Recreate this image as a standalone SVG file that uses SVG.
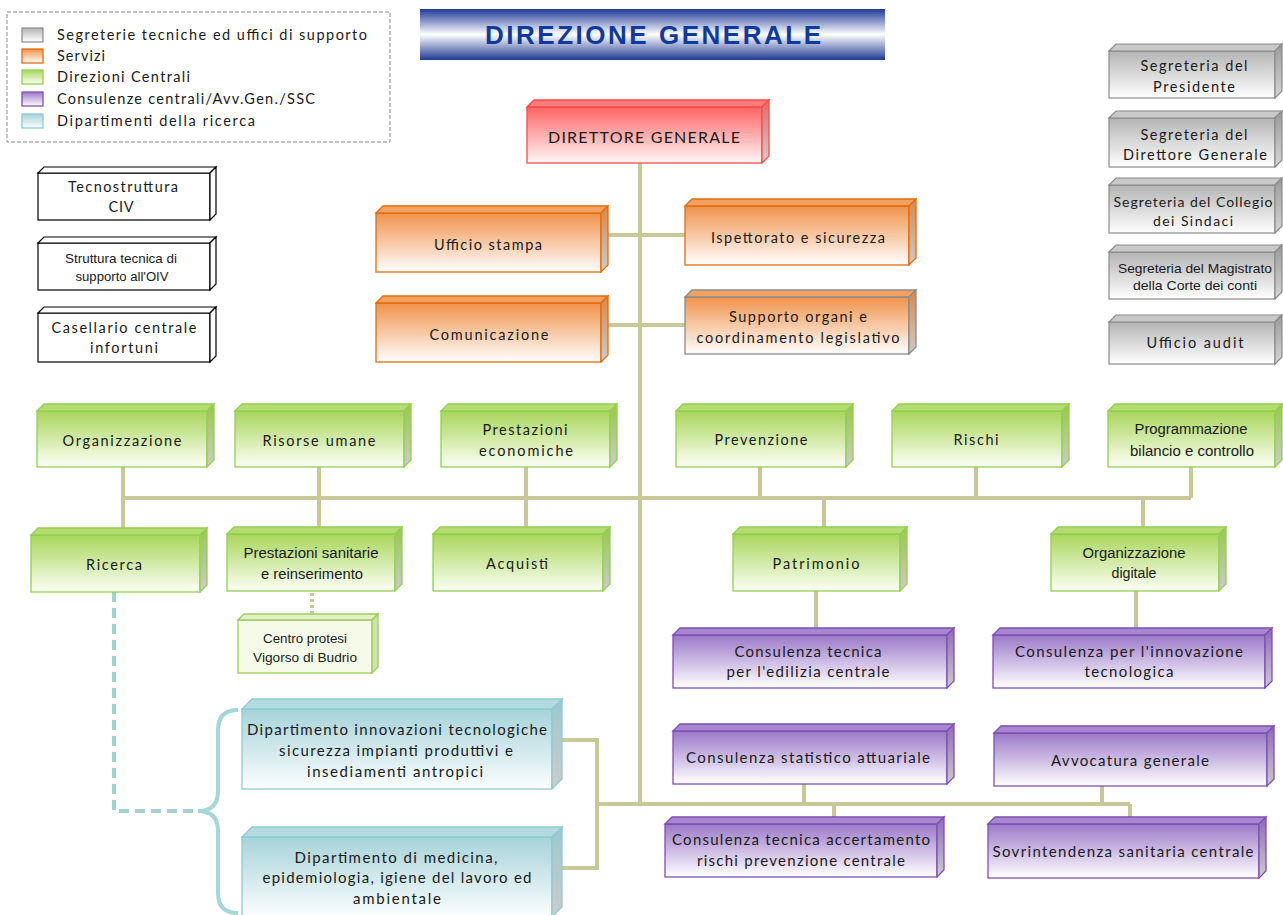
<svg xmlns="http://www.w3.org/2000/svg" width="1283" height="915" viewBox="0 0 1283 915">
<style>
.t{font-family:Lato,"Open Sans",sans-serif;font-size:14.5px;fill:#1a1a1a;text-anchor:middle}
.n{font-family:"Liberation Sans",Arial,sans-serif;font-size:14px;fill:#1a1a1a;text-anchor:middle}
.lg{font-family:Lato,"Open Sans",sans-serif;font-size:14.5px;fill:#1a1a1a}
.gr rect,.gr polygon{stroke:#8a8a8a;stroke-width:1.2}
.gr rect{fill:url(#fGray)} .gr .tp{fill:#c9c9c9} .gr .sd{fill:url(#sGray)}
.wh rect,.wh polygon{stroke:#000;stroke-width:1.2;fill:#fff}
.rd rect,.rd polygon{stroke:#ff4a4a;stroke-width:1.3}
.rd rect{fill:url(#fRed)} .rd .tp{fill:#ff7b7b} .rd .sd{fill:url(#sRed)}
.or rect,.or polygon{stroke:#e46c0a;stroke-width:1.3}
.or rect{fill:url(#fOr)} .or .tp{fill:#f2a160} .or .sd{fill:url(#sOr)}
.gn rect,.gn polygon{stroke:#92d050;stroke-width:1.3}
.gn rect{fill:url(#fGn)} .gn .tp{fill:#b4dc70} .gn .sd{fill:url(#sGn)}
.cp rect,.cp polygon{stroke:#9ccc5c;stroke-width:1.3}
.cp rect{fill:#f6fbe9} .cp .tp{fill:#e2f1c4} .cp .sd{fill:#cfe3a8}
.pu rect,.pu polygon{stroke:#7e4fb3;stroke-width:1.3}
.pu rect{fill:url(#fPu)} .pu .tp{fill:#a886d0} .pu .sd{fill:url(#sPu)}
.bl rect,.bl polygon{stroke:#8ccbd6;stroke-width:1.3}
.bl rect{fill:url(#fBl)} .bl .tp{fill:#b3dade} .bl .sd{fill:url(#sBl)}
.cn{fill:none;stroke:#c8c898;stroke-width:4}
</style>
<defs>
<linearGradient id="fGray" x1="0" y1="0" x2="0" y2="1"><stop offset="0" stop-color="#b4b4b4"/><stop offset="1" stop-color="#ffffff"/></linearGradient>
<linearGradient id="sGray" x1="0" y1="0" x2="0" y2="1"><stop offset="0" stop-color="#9a9a9a"/><stop offset="1" stop-color="#d6d6d6"/></linearGradient>
<linearGradient id="fRed" x1="0" y1="0" x2="0" y2="1"><stop offset="0" stop-color="#ff6464"/><stop offset="1" stop-color="#fff6f6"/></linearGradient>
<linearGradient id="sRed" x1="0" y1="0" x2="0" y2="1"><stop offset="0" stop-color="#e06a6a"/><stop offset="1" stop-color="#cfcfcf"/></linearGradient>
<linearGradient id="fOr" x1="0" y1="0" x2="0" y2="1"><stop offset="0" stop-color="#f0924a"/><stop offset="1" stop-color="#ffffff"/></linearGradient>
<linearGradient id="sOr" x1="0" y1="0" x2="0" y2="1"><stop offset="0" stop-color="#d8884a"/><stop offset="1" stop-color="#cccccc"/></linearGradient>
<linearGradient id="fGn" x1="0" y1="0" x2="0" y2="1"><stop offset="0" stop-color="#a8d65a"/><stop offset="1" stop-color="#fcfff5"/></linearGradient>
<linearGradient id="sGn" x1="0" y1="0" x2="0" y2="1"><stop offset="0" stop-color="#98c84c"/><stop offset="1" stop-color="#cccccc"/></linearGradient>
<linearGradient id="fPu" x1="0" y1="0" x2="0" y2="1"><stop offset="0" stop-color="#9b78c8"/><stop offset="1" stop-color="#ffffff"/></linearGradient>
<linearGradient id="sPu" x1="0" y1="0" x2="0" y2="1"><stop offset="0" stop-color="#8e6ab8"/><stop offset="1" stop-color="#cccccc"/></linearGradient>
<linearGradient id="fBl" x1="0" y1="0" x2="0" y2="1"><stop offset="0" stop-color="#a6d3d9"/><stop offset="1" stop-color="#fbfefe"/></linearGradient>
<linearGradient id="sBl" x1="0" y1="0" x2="0" y2="1"><stop offset="0" stop-color="#9cc8cd"/><stop offset="1" stop-color="#cccccc"/></linearGradient>
<linearGradient id="fTitle" x1="0" y1="0" x2="0" y2="1"><stop offset="0" stop-color="#1f3993"/><stop offset="0.5" stop-color="#ffffff"/><stop offset="1" stop-color="#1f3993"/></linearGradient>
</defs>

<g id="legend">
<rect x="7" y="12" width="383" height="130" fill="#fff" stroke="#8a8a8a" stroke-width="1" stroke-dasharray="4 2"/>
<g class="gr"><rect x="22" y="28" width="21" height="14"/></g>
<g class="or"><rect x="22" y="49" width="21" height="14"/></g>
<g class="gn"><rect x="22" y="70" width="21" height="14"/></g>
<g class="pu"><rect x="22" y="92" width="21" height="14"/></g>
<g class="bl"><rect x="22" y="114" width="21" height="14"/></g>
<text class="lg" x="57" y="40" textLength="310">Segreterie tecniche ed uffici di supporto</text>
<text class="lg" x="57" y="61" textLength="48">Servizi</text>
<text class="lg" x="57" y="82" textLength="133">Direzioni Centrali</text>
<text class="lg" x="57" y="104" textLength="258">Consulenze centrali/Avv.Gen./SSC</text>
<text class="lg" x="57" y="126" textLength="198">Dipartimenti della ricerca</text>
</g>

<g id="title">
<rect x="420" y="9" width="465" height="51" fill="url(#fTitle)"/>
<text x="653" y="44" textLength="336" style="font-family:'Liberation Sans',Arial,sans-serif;font-weight:bold;font-size:26px;fill:#0d3a9c;text-anchor:middle">DIREZIONE GENERALE</text>
</g>

<g id="connectors">
<path class="cn" d="M640 163 V804"/>
<path class="cn" d="M607 235 H685"/>
<path class="cn" d="M607 325 H685"/>
<path class="cn" d="M123 498 H1191"/>
<path class="cn" d="M123 467 V535"/>
<path class="cn" d="M319 467 V534"/>
<path class="cn" d="M526 467 V534"/>
<path class="cn" d="M760 467 V498"/>
<path class="cn" d="M976 467 V498"/>
<path class="cn" d="M1191 467 V498"/>
<path class="cn" d="M824 498 V534"/>
<path class="cn" d="M1143 498 V534"/>
<path class="cn" d="M816 591 V628"/>
<path class="cn" d="M1136 591 V628"/>
<path class="cn" d="M562 740 H597 V868 H562"/>
<path class="cn" d="M597 804 H1130"/>
<path class="cn" d="M804 784 V804"/>
<path class="cn" d="M1102 786 V804"/>
<path class="cn" d="M834 804 V818"/>
<path class="cn" d="M1130 804 V818"/>
<path class="cn" d="M312 593 V613" stroke-dasharray="3 3"/>
<path d="M114 592 V811 H198" fill="none" stroke="#9fd2d2" stroke-width="4" stroke-dasharray="10 6"/>
<path d="M238 710 Q218 710 218 730 V791 Q218 811 198 811 Q218 811 218 831 V893 Q218 913 238 913" fill="none" stroke="#a6d6d6" stroke-width="4"/>
</g>

<g id="direttore" class="rd"><g transform="translate(527,107)"><rect width="235" height="56"/><polygon class="tp" points="0,0 7,-7 242,-7 235,0"/><polygon class="sd" points="235,0 242,-7 242,49 235,56"/></g>
<text class="t" x="644" y="143" textLength="192" style="font-size:16px">DIRETTORE  GENERALE</text></g>

<g id="seg-presidente" class="gr"><g transform="translate(1109,51)"><rect width="166" height="47"/><polygon class="tp" points="0,0 7,-7 173,-7 166,0"/><polygon class="sd" points="166,0 173,-7 173,40 166,47"/></g>
<text class="t" x="1194" y="71" textLength="107">Segreteria del</text><text class="t" x="1194" y="92" textLength="82">Presidente</text></g>
<g id="seg-dg" class="gr"><g transform="translate(1109,118)"><rect width="166" height="49"/><polygon class="tp" points="0,0 7,-7 173,-7 166,0"/><polygon class="sd" points="166,0 173,-7 173,42 166,49"/></g>
<text class="t" x="1194" y="140" textLength="107">Segreteria del</text><text class="t" x="1195" y="160" textLength="144">Direttore Generale</text></g>
<g id="seg-collegio" class="gr"><g transform="translate(1109,185)"><rect width="166" height="48"/><polygon class="tp" points="0,0 7,-7 173,-7 166,0"/><polygon class="sd" points="166,0 173,-7 173,41 166,48"/></g>
<text class="t" x="1193" y="207" textLength="159" style="font-size:14px">Segreteria del Collegio</text><text class="t" x="1193" y="226" textLength="80" style="font-size:14px">dei Sindaci</text></g>
<g id="seg-magistrato" class="gr"><g transform="translate(1109,252)"><rect width="166" height="47"/><polygon class="tp" points="0,0 7,-7 173,-7 166,0"/><polygon class="sd" points="166,0 173,-7 173,40 166,47"/></g>
<text class="n" x="1195" y="273" textLength="154" lengthAdjust="spacingAndGlyphs" style="font-size:13px">Segreteria del Magistrato</text><text class="n" x="1195" y="290" textLength="124" lengthAdjust="spacingAndGlyphs" style="font-size:13px">della Corte dei conti</text></g>
<g id="uff-audit" class="gr"><g transform="translate(1109,322)"><rect width="166" height="42"/><polygon class="tp" points="0,0 7,-7 173,-7 166,0"/><polygon class="sd" points="166,0 173,-7 173,35 166,42"/></g>
<text class="t" x="1195" y="348" textLength="97">Ufficio audit</text></g>

<g id="tecnostruttura" class="wh"><g transform="translate(38,173)"><rect width="172" height="47"/><polygon points="0,0 6,-6 178,-6 172,0"/><polygon points="172,0 178,-6 178,41 172,47"/></g>
<text class="t" x="123" y="192" textLength="110">Tecnostruttura</text><text class="t" x="121" y="212" textLength="25">CIV</text></g>
<g id="struttura-oiv" class="wh"><g transform="translate(38,243)"><rect width="172" height="47"/><polygon points="0,0 6,-6 178,-6 172,0"/><polygon points="172,0 178,-6 178,41 172,47"/></g>
<text class="n" x="121" y="263" textLength="112" lengthAdjust="spacingAndGlyphs" style="font-size:13px">Struttura tecnica di</text><text class="n" x="122" y="281" textLength="93" lengthAdjust="spacingAndGlyphs" style="font-size:13px">supporto all'OIV</text></g>
<g id="casellario" class="wh"><g transform="translate(38,313)"><rect width="172" height="49"/><polygon points="0,0 6,-6 178,-6 172,0"/><polygon points="172,0 178,-6 178,43 172,49"/></g>
<text class="t" x="124" y="333" textLength="145">Casellario centrale</text><text class="t" x="124" y="353" textLength="68">infortuni</text></g>

<g id="ufficio-stampa" class="or"><g transform="translate(376,213)"><rect width="225" height="59"/><polygon class="tp" points="0,0 7,-7 232,-7 225,0"/><polygon class="sd" points="225,0 232,-7 232,52 225,59"/></g>
<text class="t" x="488" y="250" textLength="108">Ufficio stampa</text></g>
<g id="comunicazione" class="or"><g transform="translate(376,303)"><rect width="225" height="59"/><polygon class="tp" points="0,0 7,-7 232,-7 225,0"/><polygon class="sd" points="225,0 232,-7 232,52 225,59"/></g>
<text class="t" x="489" y="340" textLength="119">Comunicazione</text></g>
<g id="ispettorato" class="or"><g transform="translate(685,206)"><rect width="224" height="59"/><polygon class="tp" points="0,0 7,-7 231,-7 224,0"/><polygon class="sd" points="224,0 231,-7 231,52 224,59"/></g>
<text class="t" x="798" y="243" textLength="174">Ispettorato e sicurezza</text></g>
<g id="supporto-organi" class="or"><g transform="translate(685,297)"><rect width="224" height="57" style="stroke:#8a8a8a"/><polygon class="tp" points="0,0 7,-7 231,-7 224,0" style="stroke:#8a8a8a"/><polygon class="sd" points="224,0 231,-7 231,50 224,57" style="stroke:#8a8a8a"/></g>
<text class="t" x="798" y="322" textLength="138">Supporto organi e</text><text class="t" x="798" y="343" textLength="203">coordinamento legislativo</text></g>

<g id="organizzazione" class="gn"><g transform="translate(37,411)"><rect width="170" height="56"/><polygon class="tp" points="0,0 7,-7 177,-7 170,0"/><polygon class="sd" points="170,0 177,-7 177,49 170,56"/></g>
<text class="t" x="122" y="446" textLength="119">Organizzazione</text></g>
<g id="risorse-umane" class="gn"><g transform="translate(235,411)"><rect width="169" height="56"/><polygon class="tp" points="0,0 7,-7 176,-7 169,0"/><polygon class="sd" points="169,0 176,-7 176,49 169,56"/></g>
<text class="t" x="319" y="446" textLength="113">Risorse umane</text></g>
<g id="prestazioni-economiche" class="gn"><g transform="translate(441,411)"><rect width="169" height="56"/><polygon class="tp" points="0,0 7,-7 176,-7 169,0"/><polygon class="sd" points="169,0 176,-7 176,49 169,56"/></g>
<text class="t" x="525" y="435" textLength="85">Prestazioni</text><text class="t" x="526" y="456" textLength="94">economiche</text></g>
<g id="prevenzione" class="gn"><g transform="translate(676,411)"><rect width="170" height="56"/><polygon class="tp" points="0,0 7,-7 177,-7 170,0"/><polygon class="sd" points="170,0 177,-7 177,49 170,56"/></g>
<text class="t" x="761" y="445" textLength="93">Prevenzione</text></g>
<g id="rischi" class="gn"><g transform="translate(892,411)"><rect width="170" height="56"/><polygon class="tp" points="0,0 7,-7 177,-7 170,0"/><polygon class="sd" points="170,0 177,-7 177,49 170,56"/></g>
<text class="t" x="976" y="445" textLength="45">Rischi</text></g>
<g id="programmazione" class="gn"><g transform="translate(1108,411)"><rect width="167" height="56"/><polygon class="tp" points="0,0 7,-7 174,-7 167,0"/><polygon class="sd" points="167,0 174,-7 174,49 167,56"/></g>
<text class="n" x="1191" y="434" textLength="113" lengthAdjust="spacingAndGlyphs">Programmazione</text><text class="n" x="1192" y="456" textLength="124" lengthAdjust="spacingAndGlyphs">bilancio  e controllo</text></g>

<g id="ricerca" class="gn"><g transform="translate(31,535)"><rect width="169" height="57"/><polygon class="tp" points="0,0 7,-7 176,-7 169,0"/><polygon class="sd" points="169,0 176,-7 176,50 169,57"/></g>
<text class="t" x="114" y="570" textLength="56">Ricerca</text></g>
<g id="prestazioni-sanitarie" class="gn"><g transform="translate(227,534)"><rect width="168" height="57"/><polygon class="tp" points="0,0 7,-7 175,-7 168,0"/><polygon class="sd" points="168,0 175,-7 175,50 168,57"/></g>
<text class="n" x="311" y="558" textLength="135" lengthAdjust="spacingAndGlyphs">Prestazioni  sanitarie</text><text class="n" x="312" y="579" textLength="102" lengthAdjust="spacingAndGlyphs">e reinserimento</text></g>
<g id="acquisti" class="gn"><g transform="translate(433,534)"><rect width="170" height="57"/><polygon class="tp" points="0,0 7,-7 177,-7 170,0"/><polygon class="sd" points="170,0 177,-7 177,50 170,57"/></g>
<text class="t" x="517" y="569" textLength="62">Acquisti</text></g>
<g id="patrimonio" class="gn"><g transform="translate(733,534)"><rect width="167" height="57"/><polygon class="tp" points="0,0 7,-7 174,-7 167,0"/><polygon class="sd" points="167,0 174,-7 174,50 167,57"/></g>
<text class="t" x="816" y="569" textLength="87">Patrimonio</text></g>
<g id="organizzazione-digitale" class="gn"><g transform="translate(1051,534)"><rect width="168" height="57"/><polygon class="tp" points="0,0 7,-7 175,-7 168,0"/><polygon class="sd" points="168,0 175,-7 175,50 168,57"/></g>
<text class="n" x="1134" y="558" textLength="103" lengthAdjust="spacingAndGlyphs">Organizzazione</text><text class="n" x="1134" y="578" textLength="45" lengthAdjust="spacingAndGlyphs">digitale</text></g>

<g id="centro-protesi" class="cp"><g transform="translate(238,620)"><rect width="134" height="53"/><polygon class="tp" points="0,0 6,-6 140,-6 134,0"/><polygon class="sd" points="134,0 140,-6 140,47 134,53"/></g>
<text class="n" x="305" y="643" textLength="84" lengthAdjust="spacingAndGlyphs" style="font-size:13.5px">Centro protesi</text><text class="n" x="305" y="662" textLength="104" lengthAdjust="spacingAndGlyphs" style="font-size:13.5px">Vigorso di Budrio</text></g>

<g id="dip-innovazioni" class="bl"><g transform="translate(242,709)"><rect width="310" height="80"/><polygon class="tp" points="0,0 10,-10 320,-10 310,0"/><polygon class="sd" points="310,0 320,-10 320,70 310,80"/></g>
<text class="t" x="397" y="735" textLength="300" style="font-size:15px">Dipartimento innovazioni tecnologiche</text><text class="t" x="396" y="756" textLength="234" style="font-size:15px">sicurezza impianti produttivi e</text><text class="t" x="395" y="777" textLength="176" style="font-size:15px">insediamenti antropici</text></g>
<g id="dip-medicina" class="bl"><g transform="translate(242,837)"><rect width="310" height="80"/><polygon class="tp" points="0,0 10,-10 320,-10 310,0"/><polygon class="sd" points="310,0 320,-10 320,70 310,80"/></g>
<text class="t" x="396" y="863" textLength="203" style="font-size:15px">Dipartimento di medicina,</text><text class="t" x="397" y="883" textLength="269" style="font-size:15px">epidemiologia, igiene del lavoro ed</text><text class="t" x="397" y="904" textLength="88" style="font-size:15px">ambientale</text></g>

<g id="cons-edilizia" class="pu"><g transform="translate(673,635)"><rect width="274" height="53"/><polygon class="tp" points="0,0 7,-7 281,-7 274,0"/><polygon class="sd" points="274,0 281,-7 281,46 274,53"/></g>
<text class="t" x="808" y="657" textLength="147" style="font-size:15px">Consulenza tecnica</text><text class="t" x="808" y="677" textLength="163" style="font-size:15px">per l'edilizia centrale</text></g>
<g id="cons-innovazione" class="pu"><g transform="translate(993,635)"><rect width="272" height="53"/><polygon class="tp" points="0,0 7,-7 279,-7 272,0"/><polygon class="sd" points="272,0 279,-7 279,46 272,53"/></g>
<text class="t" x="1129" y="657" textLength="228" style="font-size:15px">Consulenza per l'innovazione</text><text class="t" x="1129" y="677" textLength="89" style="font-size:15px">tecnologica</text></g>
<g id="cons-statistico" class="pu"><g transform="translate(673,731)"><rect width="274" height="53"/><polygon class="tp" points="0,0 7,-7 281,-7 274,0"/><polygon class="sd" points="274,0 281,-7 281,46 274,53"/></g>
<text class="t" x="808" y="763" textLength="244" style="font-size:15px">Consulenza statistico attuariale</text></g>
<g id="avvocatura" class="pu"><g transform="translate(994,733)"><rect width="273" height="53"/><polygon class="tp" points="0,0 7,-7 280,-7 273,0"/><polygon class="sd" points="273,0 280,-7 280,46 273,53"/></g>
<text class="t" x="1130" y="766" textLength="158" style="font-size:15px">Avvocatura generale</text></g>
<g id="cons-accertamento" class="pu"><g transform="translate(665,824)"><rect width="272" height="53"/><polygon class="tp" points="0,0 7,-7 279,-7 272,0"/><polygon class="sd" points="272,0 279,-7 279,46 272,53"/></g>
<text class="t" x="801" y="845" textLength="258" style="font-size:15px">Consulenza tecnica accertamento</text><text class="t" x="801" y="866" textLength="208" style="font-size:15px">rischi prevenzione centrale</text></g>
<g id="sovrintendenza" class="pu"><g transform="translate(988,824)"><rect width="271" height="54"/><polygon class="tp" points="0,0 7,-7 278,-7 271,0"/><polygon class="sd" points="271,0 278,-7 278,47 271,54"/></g>
<text class="t" x="1123" y="857" textLength="261" style="font-size:15px">Sovrintendenza sanitaria centrale</text></g>
</svg>
